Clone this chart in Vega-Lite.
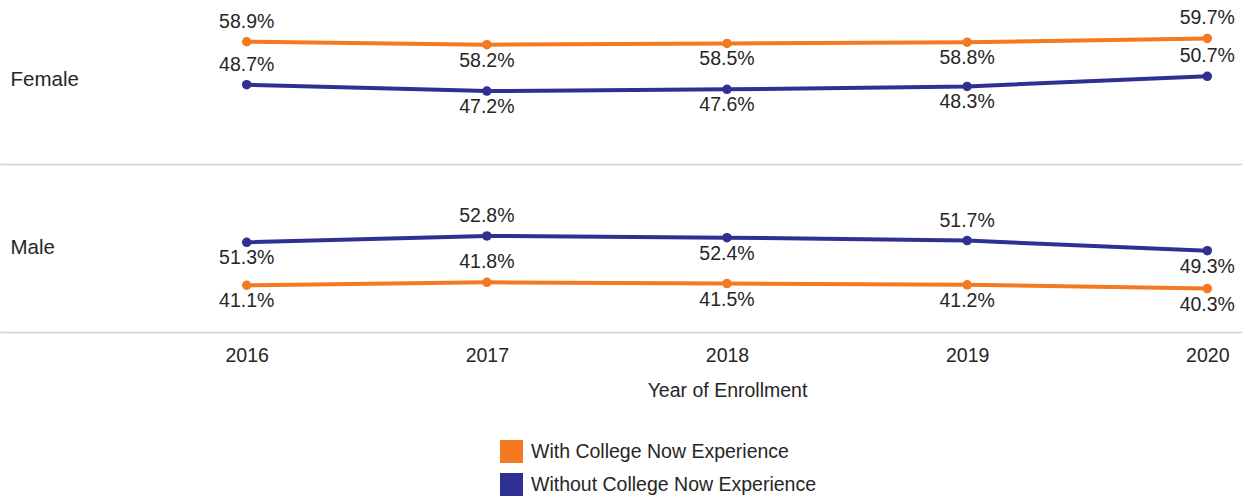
{
  "$schema": "https://vega.github.io/schema/vega-lite/v6.json",
  "width": 1060,
  "height": 337,
  "autosize": {"type": "none"},
  "padding": {"left": 197, "top": -5, "right": -15, "bottom": 165},
  "data": {
    "values": [
      {"year": 2016, "gender": "Female", "group": "With College Now Experience", "value": 0.589},
      {"year": 2017, "gender": "Female", "group": "With College Now Experience", "value": 0.582},
      {"year": 2018, "gender": "Female", "group": "With College Now Experience", "value": 0.585},
      {"year": 2019, "gender": "Female", "group": "With College Now Experience", "value": 0.588},
      {"year": 2020, "gender": "Female", "group": "With College Now Experience", "value": 0.597},
      {"year": 2016, "gender": "Female", "group": "Without College Now Experience", "value": 0.487},
      {"year": 2017, "gender": "Female", "group": "Without College Now Experience", "value": 0.472},
      {"year": 2018, "gender": "Female", "group": "Without College Now Experience", "value": 0.476},
      {"year": 2019, "gender": "Female", "group": "Without College Now Experience", "value": 0.483},
      {"year": 2020, "gender": "Female", "group": "Without College Now Experience", "value": 0.507},
      {"year": 2016, "gender": "Male", "group": "With College Now Experience", "value": 0.411},
      {"year": 2017, "gender": "Male", "group": "With College Now Experience", "value": 0.418},
      {"year": 2018, "gender": "Male", "group": "With College Now Experience", "value": 0.415},
      {"year": 2019, "gender": "Male", "group": "With College Now Experience", "value": 0.412},
      {"year": 2020, "gender": "Male", "group": "With College Now Experience", "value": 0.403},
      {"year": 2016, "gender": "Male", "group": "Without College Now Experience", "value": 0.513},
      {"year": 2017, "gender": "Male", "group": "Without College Now Experience", "value": 0.528},
      {"year": 2018, "gender": "Male", "group": "Without College Now Experience", "value": 0.524},
      {"year": 2019, "gender": "Male", "group": "Without College Now Experience", "value": 0.517},
      {"year": 2020, "gender": "Male", "group": "Without College Now Experience", "value": 0.493}
    ]
  },
  "encoding": {
    "x": {
      "field": "year", "type": "ordinal",
      "scale": {"type": "point", "padding": 0.207},
      "axis": {
        "title": "Year of Enrollment", "labelAngle": 0, "ticks": false, "domain": false, "grid": false,
        "labelFontSize": 19.5, "labelColor": "#262626", "labelPadding": 14,
        "titleFontSize": 19.5, "titleFontWeight": "normal", "titleColor": "#262626", "titlePadding": 17
      }
    },
    "y": {
      "field": "gender", "type": "nominal",
      "scale": {"type": "band", "paddingInner": 0, "paddingOuter": 0},
      "axis": {
        "title": null, "domain": false, "ticks": true, "tickBand": "extent", "tickSize": 197,
        "tickColor": "#cfcfcf", "tickWidth": 1.5, "grid": true, "gridColor": "#cfcfcf", "gridWidth": 1.5,
        "labelAlign": "left", "labelPadding": -10, "labelFontSize": 20.5, "labelColor": "#262626"
      }
    },
    "yOffset": {
      "field": "value", "type": "quantitative",
      "scale": {"domain": [0.30, 0.70], "reverse": true, "zero": false, "nice": false}
    }
  },
  "layer": [
    {
      "mark": {"type": "line", "strokeWidth": 4},
      "encoding": {
        "detail": {"field": "gender"},
        "color": {
          "field": "group", "type": "nominal",
          "scale": {"domain": ["With College Now Experience", "Without College Now Experience"], "range": ["#F47920", "#2E3192"]},
          "legend": {
            "title": null, "orient": "none", "legendX": 303, "legendY": 445, "direction": "vertical",
            "symbolType": "square", "symbolSize": 529, "symbolStrokeWidth": 0, "symbolOpacity": 1,
            "labelFontSize": 19.5, "labelColor": "#262626", "labelOffset": 8, "rowPadding": 10, "labelLimit": 500
          }
        }
      }
    },
    {
      "mark": {"type": "point", "filled": true, "size": 90, "opacity": 1},
      "encoding": {
        "color": {"field": "group", "type": "nominal"}
      }
    },
    {
      "transform": [{"filter": "(datum.gender === 'Female' && (datum.year === 2016 || datum.year === 2020)) || (datum.gender === 'Male' && datum.year === 2017) || (datum.gender === 'Male' && datum.group === 'Without College Now Experience' && datum.year === 2019)"}],
      "mark": {"type": "text", "dy": -20, "fontSize": 19.5, "color": "#262626", "baseline": "middle"},
      "encoding": {"text": {"field": "value", "type": "quantitative", "format": ".1%"}}
    },
    {
      "transform": [{"filter": "!((datum.gender === 'Female' && (datum.year === 2016 || datum.year === 2020)) || (datum.gender === 'Male' && datum.year === 2017) || (datum.gender === 'Male' && datum.group === 'Without College Now Experience' && datum.year === 2019))"}],
      "mark": {"type": "text", "dy": 16, "fontSize": 19.5, "color": "#262626", "baseline": "middle"},
      "encoding": {"text": {"field": "value", "type": "quantitative", "format": ".1%"}}
    }
  ],
  "config": {
    "view": {"stroke": null},
    "font": "Liberation Sans"
  }
}
